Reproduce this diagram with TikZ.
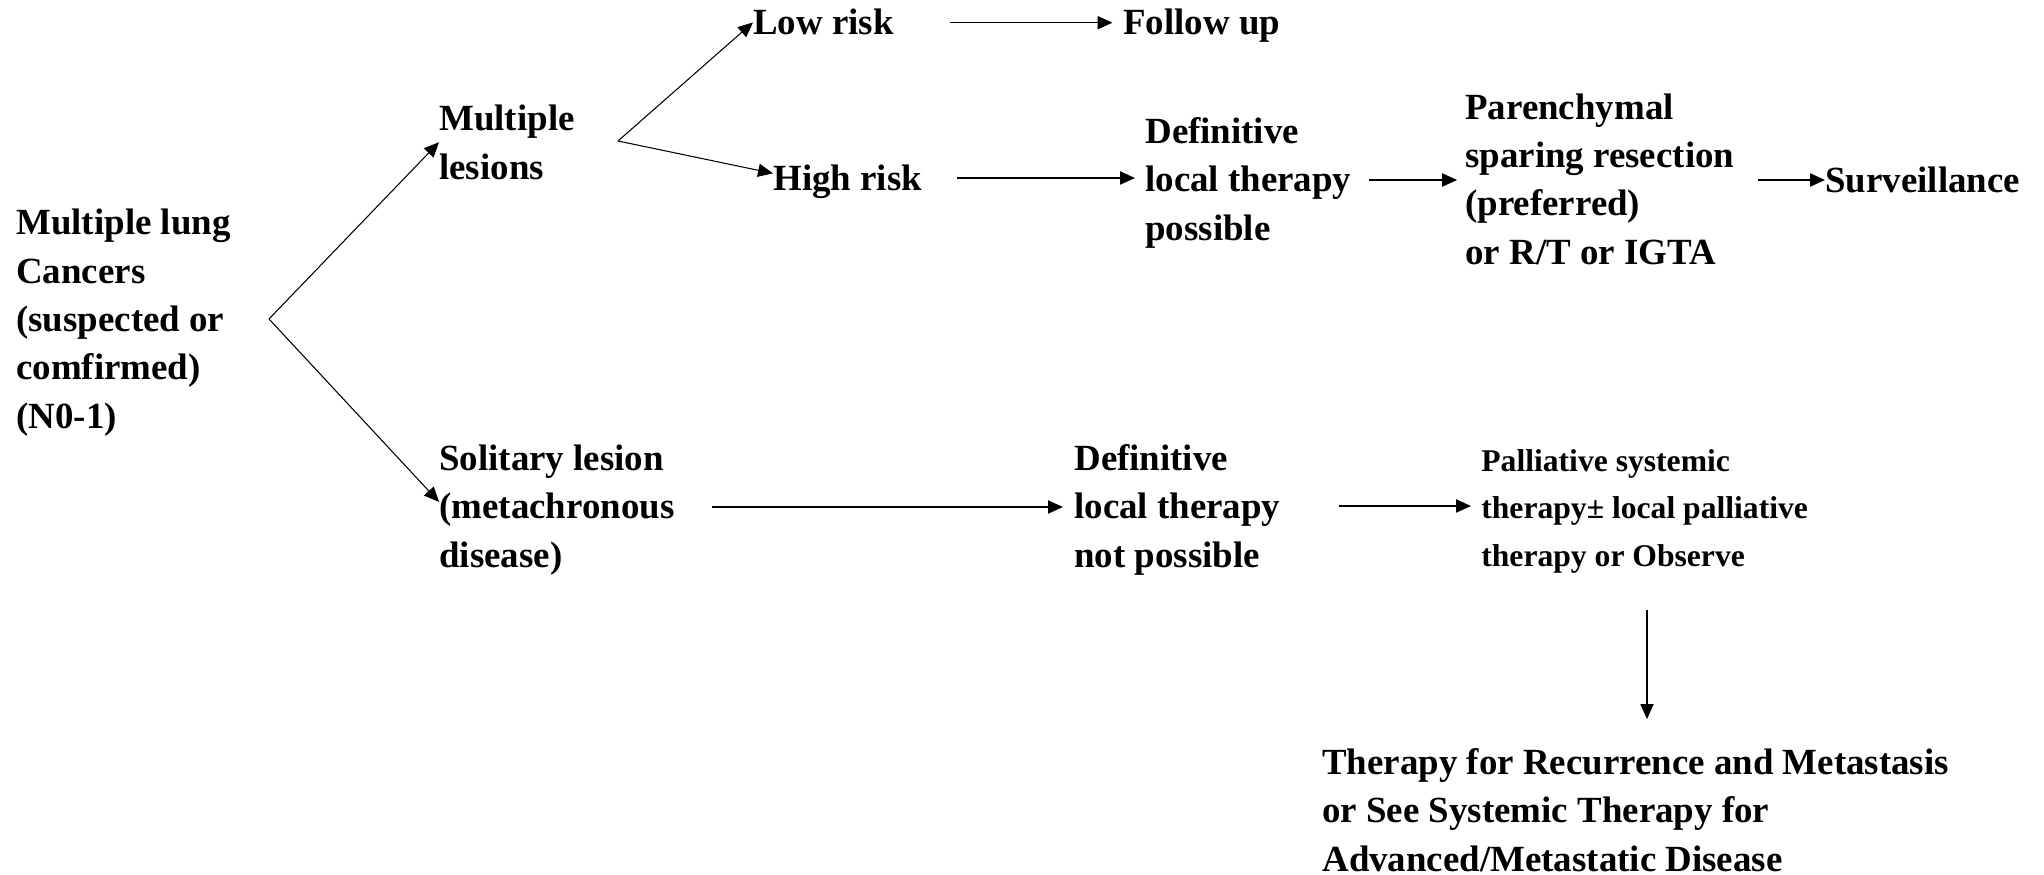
\documentclass[tikz,border=0pt]{standalone}
\usepackage{fontspec}
\setmainfont{Liberation Serif}
\usetikzlibrary{arrows.meta}
\begin{document}
\begin{tikzpicture}[x=0.02cm,y=-0.02cm,
  txt/.style={anchor=base west,inner sep=0pt,align=left,
    font=\fontsize{21}{27.5}\selectfont\bfseries},
  smalltxt/.style={txt,font=\fontsize{18}{27}\selectfont\bfseries},
  arr/.style={line width=0.8pt,-{Triangle[length=8.5pt,width=7.5pt]}},
  thinarr/.style={line width=0.6pt,-{Triangle[length=8.5pt,width=7.5pt]}}]
\useasboundingbox (0,0) rectangle (2044,875);

% texts (each placed by the baseline of its last line)
\node[txt] (root) at (16,428) {Multiple lung\\Cancers\\(suspected or\\comfirmed)\\(N0-1)};
\node[txt] (ml) at (439,179) {Multiple\\lesions};
\node[txt] (sl) at (439,567) {Solitary lesion\\(metachronous\\disease)};
\node[txt] (lr) at (753,35) {Low risk};
\node[txt] (hr) at (773,190) {High risk};
\node[txt] (fu) at (1123,35) {Follow up};
\node[txt] (dp) at (1145,240) {Definitive\\local therapy\\possible};
\node[txt] (par) at (1465,264) {Parenchymal\\sparing resection\\(preferred)\\or R/T or IGTA};
\node[txt] (surv) at (1825,192) {Surveillance};
\node[txt] (dn) at (1074,567) {Definitive\\local therapy\\not possible};
\node[smalltxt] (pal) at (1481,566) {Palliative systemic\\therapy\textpm{} local palliative\\therapy or Observe};
\node[txt] (ther) at (1322,871) {Therapy for Recurrence and Metastasis\\or See Systemic Therapy for\\Advanced/Metastatic Disease};

% branching points and arrow tails
\coordinate (fork0) at (269,319);
\coordinate (fork1) at (618,141);
\coordinate (t1) at (950,22.7);
\coordinate (t2) at (957,178);
\coordinate (t3) at (1369,180);
\coordinate (t4) at (1758,180);
\coordinate (t5) at (712,507);
\coordinate (t6) at (1339,506);
\coordinate (t7) at (1647,610);

% connectors
\draw[thinarr] (fork0) -- (ml.west);
\draw[thinarr] (fork0) -- ([yshift=4.5pt]sl.west);
\draw[thinarr] (fork1) -- (lr.west);
\draw[thinarr] (fork1) -- ([yshift=4.5pt]hr.west);
\draw[arr] (t1) -- ([xshift=-6pt]t1 -| fu.west);
\draw[arr] (t2) -- ([xshift=-5.7pt]t2 -| dp.west);
\draw[arr] (t3) -- ([xshift=-4.5pt]t3 -| par.west);
\draw[arr] (t4) -- (t4 -| surv.west);
\draw[arr] (t5) -- ([xshift=-6.3pt]t5 -| dn.west);
\draw[arr] (t6) -- ([xshift=-5.7pt]t6 -| pal.west);
\draw[thinarr] (t7) -- ([yshift=16.5pt]t7 |- ther.north);
\end{tikzpicture}
\end{document}
